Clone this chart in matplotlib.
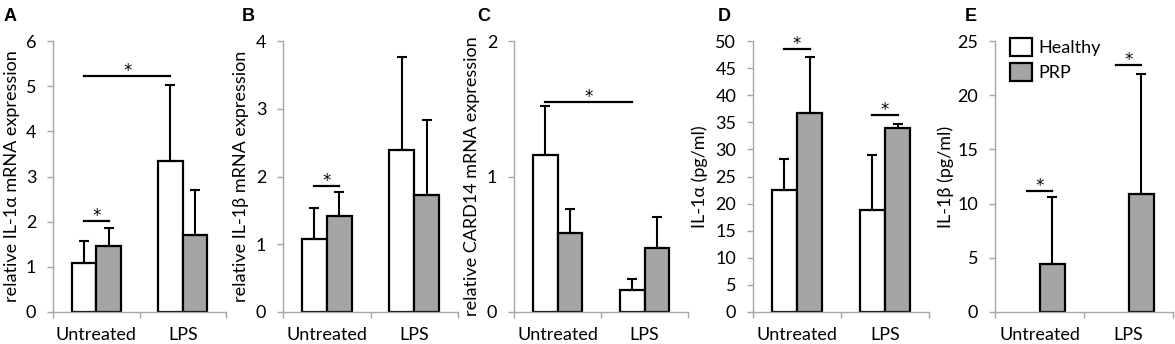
import matplotlib.pyplot as plt
from matplotlib.patches import Patch

plt.rcParams['font.family'] = ['Lato', 'DejaVu Sans']

groups = ['Untreated', 'LPS']
series = ['Healthy', 'PRP']

# A: relative IL-1a mRNA
a_healthy = [1.09, 3.35]
a_healthy_err = [0.49, 1.68]
a_prp = [1.46, 1.71]
a_prp_err = [0.39, 1.00]
a_sig = [((0, 0), (0, 1), 2.01), ((0, 0), (1, 0), 5.22)]

# B: relative IL-1b mRNA
b_healthy = [1.08, 2.39]
b_healthy_err = [0.46, 1.38]
b_prp = [1.41, 1.72]
b_prp_err = [0.36, 1.11]
b_sig = [((0, 0), (0, 1), 1.86)]

# C: relative CARD14 mRNA
c_healthy = [1.16, 0.165]
c_healthy_err = [0.36, 0.08]
c_prp = [0.58, 0.47]
c_prp_err = [0.18, 0.23]
c_sig = [((0, 0), (1, 0), 1.55)]

# D: IL-1a protein
d_healthy = [22.6, 18.9]
d_healthy_err = [5.7, 10.0]
d_prp = [36.8, 34.0]
d_prp_err = [10.2, 0.7]
d_sig = [((0, 0), (0, 1), 48.6), ((1, 0), (1, 1), 36.3)]

# E: IL-1b protein
e_healthy = [0, 0]
e_healthy_err = [0, 0]
e_prp = [4.4, 10.9]
e_prp_err = [6.2, 11.1]
e_sig = [((0, 0), (0, 1), 11.2), ((1, 0), (1, 1), 22.8)]

panels = [
    ('A', 'relative IL-1α mRNA expression', 6, 1, a_healthy, a_healthy_err, a_prp, a_prp_err, a_sig),
    ('B', 'relative IL-1β mRNA expression', 4, 1, b_healthy, b_healthy_err, b_prp, b_prp_err, b_sig),
    ('C', 'relative CARD14 mRNA expression', 2, 1, c_healthy, c_healthy_err, c_prp, c_prp_err, c_sig),
    ('D', 'IL-1α (pg/ml)', 50, 5, d_healthy, d_healthy_err, d_prp, d_prp_err, d_sig),
    ('E', 'IL-1β (pg/ml)', 25, 5, e_healthy, e_healthy_err, e_prp, e_prp_err, e_sig),
]

W, H = 1175, 344
fig = plt.figure(figsize=(W / 100, H / 100), dpi=100)

# axes placement in pixels: left, right, ylabel right edge, letter x
boxes = [(53, 226, 20, 4), (283, 458, 249, 242), (514, 688, 480, 477),
         (753, 929, 708, 718), (995, 1173, 954, 965)]
top_px, bot_px = 41, 312

bw = 0.285
grey = '#a5a5a5'
axcol = '#a6a6a6'

def xpos(g, s):
    return g + (s - 0.5) * bw

for (letter, ylab, ymax, ystep, hv, he, pv, pe, sig), (l, r, lab_r, lx) in zip(panels, boxes):
    ax = fig.add_axes([l / W, 1 - bot_px / H, (r - l) / W, (bot_px - top_px) / H])
    for s, (vals, errs, col) in enumerate([(hv, he, 'white'), (pv, pe, grey)]):
        for g, (v, e) in enumerate(zip(vals, errs)):
            if v <= 0:
                continue
            x = xpos(g, s)
            ax.bar(x, v, width=bw, color=col, edgecolor='black', linewidth=1.6, zorder=2)
            ax.errorbar(x, v, yerr=[[0], [e]], fmt='none', ecolor='black',
                        elinewidth=1.5, capsize=3.6, capthick=1.5, zorder=3)
    for (g1, s1), (g2, s2), y in sig:
        x1, x2 = xpos(g1, s1), xpos(g2, s2)
        ax.plot([x1, x2], [y, y], color='black', lw=1.6, clip_on=False, zorder=4)
        ax.text((x1 + x2) / 2, y, '*', ha='center', va='baseline', fontsize=12,
                family='DejaVu Sans', clip_on=False)

    ax.set_xlim(-0.5, 1.5)
    ax.set_ylim(0, ymax)
    ax.set_yticks(range(0, ymax + 1, ystep))
    ax.set_xticks([-0.5, 0.5, 1.5])
    ax.set_xticklabels([])
    ax.set_xticks([0, 1], minor=True)
    ax.set_xticklabels(groups, minor=True)
    for sp in ['top', 'right']:
        ax.spines[sp].set_visible(False)
    for sp in ['left', 'bottom']:
        ax.spines[sp].set_color(axcol)
        ax.spines[sp].set_linewidth(1)
    ax.tick_params(axis='both', which='major', direction='out', length=4, width=1,
                   color=axcol, labelsize=13)
    ax.tick_params(axis='y', pad=8)
    ax.tick_params(axis='x', which='minor', length=0, labelsize=13, pad=11)
    ax.set_ylabel(ylab, fontsize=13)
    ax.yaxis.set_label_coords((lab_r - l) / (r - l), 0.5)

    fig.text(lx / W, 1 - 8 / H, letter, fontsize=13, fontweight='bold',
             family='Liberation Sans', va='top', ha='left')

    if letter == 'E':
        handles = [Patch(facecolor='white', edgecolor='black', linewidth=1.6),
                   Patch(facecolor=grey, edgecolor='black', linewidth=1.6)]
        ax.legend(handles, series, loc='upper left', bbox_to_anchor=(0.085, 1.01),
                  frameon=False, fontsize=13, handlelength=1.2, handleheight=1.15,
                  handletextpad=0.35, labelspacing=0.35, borderpad=0, borderaxespad=0)

fig.savefig('out.png', dpi=100)
